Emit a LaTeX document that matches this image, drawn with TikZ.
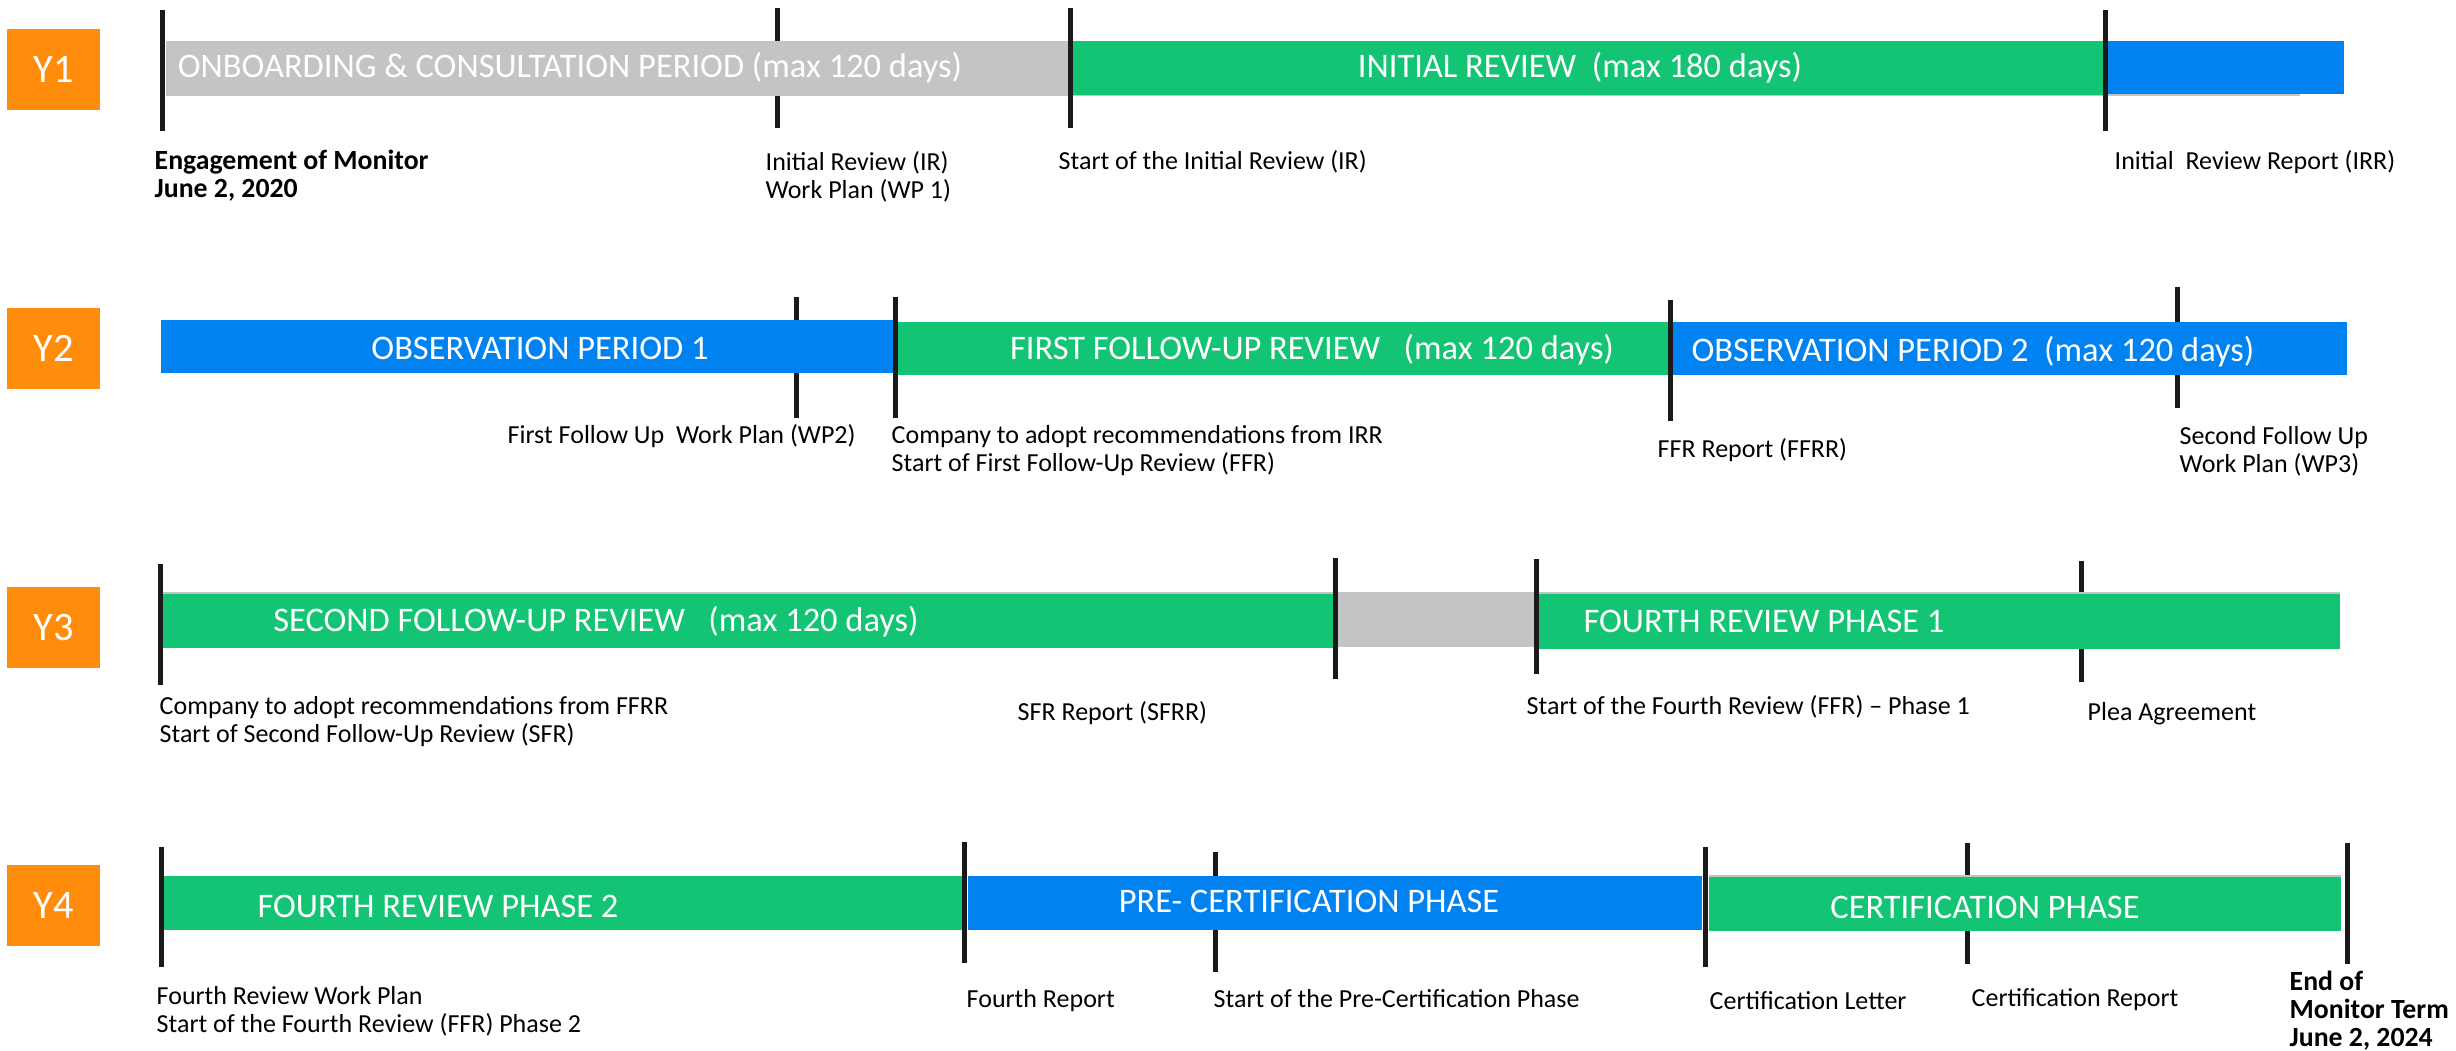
\documentclass[tikz,border=0pt]{standalone}
\usepackage{fontspec}
\setmainfont{Carlito}
\usepackage{xcolor}
\definecolor{yorange}{HTML}{FF8C0A}
\definecolor{pgray}{HTML}{C4C4C4}
\definecolor{pgreen}{HTML}{12C473}
\definecolor{pblue}{HTML}{0082F0}
\definecolor{tickblack}{HTML}{1A1A1A}
\tikzset{
  yearbox/.style={fill=yorange,text=white,minimum width=9.3mm,minimum height=8.1mm,inner sep=0pt,font=\fontsize{11.5}{13}\selectfont},
  barlbl/.style={anchor=base,text=white,inner sep=0pt,font=\fontsize{9.8}{11}\selectfont},
  lbl/.style={anchor=base west,inner sep=0pt,align=left,font=\fontsize{7.4}{8}\selectfont},
  boldlbl/.style={lbl,font=\fontsize{7.9}{8}\selectfont\bfseries},
  tick/.style={line width=0.5mm,color=tickblack},
}
\begin{document}
\begin{tikzpicture}[x=0.1mm,y=-0.1mm]
\useasboundingbox (0,0) rectangle (2456,1051);

\draw (53.5,69.5) node[yearbox](y1) {Y1};
\draw (53.5,348.5) node[yearbox](y2) {Y2};
\draw (53.5,627.5) node[yearbox](y3) {Y3};
\draw (53.5,905.5) node[yearbox](y4) {Y4};

\draw[tick] (777,8) -- (777,128);
\draw[tick] (796,297) -- (796,418);
\draw[tick] (2177,287) -- (2177,408);
\draw[tick] (2081,561) -- (2081,682);
\draw[tick] (1215,852) -- (1215,972);
\draw[tick] (1967,843) -- (1967,964);

\fill[pgray] (166,41) rectangle (2300,96);
\fill[pgreen] (1073,41) rectangle (2105,95);
\fill[pblue] (2105,41) rectangle (2344,94);
\fill[pblue] (161,320) rectangle (893,373);
\fill[pgreen] (898,322) rectangle (1668,375);
\fill[pblue] (1673,322) rectangle (2347,375);
\fill[pgray] (163,592) rectangle (2340,647);
\fill[pgreen] (163,594) rectangle (1333,648);
\fill[pgreen] (1539,594) rectangle (2340,649);
\fill[pgreen] (164,876) rectangle (962,930);
\fill[pblue] (968,876) rectangle (1702,930);
\fill[pgray] (1709,875) rectangle (2341,931);
\fill[pgreen] (1709,877) rectangle (2341,931);

\draw (570,78) node[barlbl](onboard) {ONBOARDING \& CONSULTATION PERIOD (max 120 days)};
\draw (1580,78) node[barlbl](initrev) {INITIAL REVIEW\ \ (max 180 days)};
\draw (540,360) node[barlbl](obs1) {OBSERVATION PERIOD 1};
\draw (1312,360) node[barlbl](ffr) {FIRST FOLLOW-UP REVIEW\ \ \ (max 120 days)};
\draw (1973,362) node[barlbl](obs2) {OBSERVATION PERIOD 2\ \ (max 120 days)};
\draw (596,632) node[barlbl](sfr) {SECOND FOLLOW-UP REVIEW\ \ \ (max 120 days)};
\draw (1764,633) node[barlbl](fourth1) {FOURTH REVIEW PHASE 1};
\draw (438,918) node[barlbl](fourth2) {FOURTH REVIEW PHASE 2};
\draw (1309,913) node[barlbl](precert) {PRE- CERTIFICATION PHASE};
\draw (1985,919) node[barlbl](cert) {CERTIFICATION PHASE};

\draw[tick] (162,10) -- (162,131);
\draw[tick] (1070,8) -- (1070,128);
\draw[tick] (2105,10) -- (2105,131);
\draw[tick] (895,297) -- (895,418);
\draw[tick] (1670,300) -- (1670,421);
\draw[tick] (160,564) -- (160,685);
\draw[tick] (1335,558) -- (1335,679);
\draw[tick] (1536,559) -- (1536,674);
\draw[tick] (161,847) -- (161,967);
\draw[tick] (964,842) -- (964,963);
\draw[tick] (1705,847) -- (1705,967);
\draw[tick] (2347,843) -- (2347,964);

\draw (154,198) node[boldlbl](engage) {Engagement of Monitor\\June 2, 2020};
\draw (765,199) node[lbl](wp1) {Initial Review (IR)\\Work Plan (WP 1)};
\draw (1058,170) node[lbl](irstart) {Start of the Initial Review (IR)};
\draw (2114,170) node[lbl](irr) {Initial\ \ Review Report (IRR)};
\draw (507,444) node[lbl](wp2) {First Follow Up\ \ Work Plan (WP2)};
\draw (891,472) node[lbl](ffrstart) {Company to adopt recommendations from IRR\\Start of First Follow-Up Review (FFR)};
\draw (1657,458) node[lbl](ffrr) {FFR Report (FFRR)};
\draw (2179,473) node[lbl](wp3) {Second Follow Up\\Work Plan (WP3)};
\draw (159,743) node[lbl](sfrstart) {Company to adopt recommendations from FFRR\\Start of Second Follow-Up Review (SFR)};
\draw (1017,721) node[lbl](sfrr) {SFR Report (SFRR)};
\draw (1526,715) node[lbl](fr1start) {Start of the Fourth Review (FFR) -- Phase 1};
\draw (2087,721) node[lbl](plea) {Plea Agreement};
\draw (156,1033) node[lbl](fr2start) {Fourth Review Work Plan\\Start of the Fourth Review (FFR) Phase 2};
\draw (966,1008) node[lbl](fourthrep) {Fourth Report};
\draw (1213,1008) node[lbl](precertstart) {Start of the Pre-Certification Phase};
\draw (1709,1010) node[lbl](certletter) {Certification Letter};
\draw (1971,1007) node[lbl](certrep) {Certification Report};
\draw (2289,1047) node[boldlbl](endterm) {End of\\Monitor Term\\June 2, 2024};
\end{tikzpicture}
\end{document}
